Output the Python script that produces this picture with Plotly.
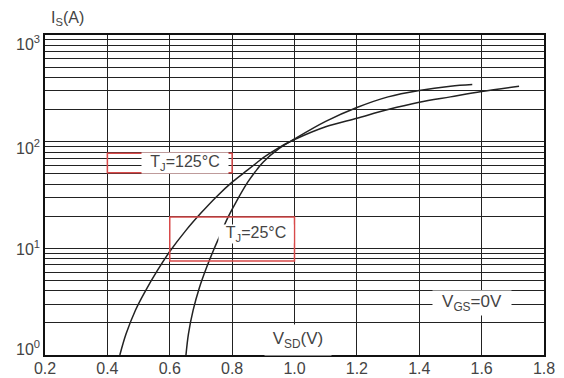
import math
import plotly.graph_objects as go

# ---- data ----
v_125 = [0.44, 0.46, 0.49, 0.52, 0.56, 0.60, 0.65, 0.70, 0.75, 0.80, 0.85, 0.88, 0.90, 0.95,
         1.0, 1.1, 1.2, 1.3, 1.4, 1.5, 1.6, 1.72]
i_125 = [1.0, 1.58, 2.63, 3.89, 6.17, 9.33, 14.5, 21.4, 30.5, 41.7, 54.3, 63.8, 70.8, 88.1,
         104.7, 138, 166, 200, 234, 263, 295, 331]

v_25 = [0.652, 0.66, 0.675, 0.695, 0.718, 0.74, 0.761, 0.785, 0.81, 0.85, 0.88, 0.90, 0.95,
        1.0, 1.1, 1.2, 1.3, 1.4, 1.5, 1.57]
i_25 = [1.0, 1.58, 2.63, 4.27, 6.6, 9.55, 13.2, 19.1, 26.3, 41.7, 55.0, 64.6, 86.1,
        106, 155, 209, 263, 302, 331, 343]

x_ticks = [0.2, 0.4, 0.6, 0.8, 1.0, 1.2, 1.4, 1.6, 1.8]
x_tick_labels = ["0.2", "0.4", "0.6", "0.8", "1.0", "1.2", "1.4", "1.6", "1.8"]
y_decades = [1, 10, 100, 1000]
y_decade_labels = ["10<sup>0</sup>", "10<sup>1</sup>", "10<sup>2</sup>", "10<sup>3</sup>"]
y_grid = [m * 10 ** k for k in range(3) for m in range(1, 10)] + [1000]

label_125 = "T<sub>J</sub>=125°C"
label_25 = "T<sub>J</sub>=25°C"
label_vgs = "V<sub>GS</sub>=0V"
label_x = "V<sub>SD</sub>(V)"
label_y = "I<sub>S</sub>(A)"

# label boxes (x range in V, y range in A)
box_125 = dict(x=(0.4, 0.8), y=(51, 78))
box_25 = dict(x=(0.6, 1.0), y=(7.6, 19.7))

FONT = "Liberation Sans, Arial, sans-serif"
TXT = "#444444"
LINE = "#222222"

fig = go.Figure()
fig.add_trace(go.Scatter(x=v_125, y=i_125, mode="lines",
                         line=dict(color=LINE, width=1.5, shape="spline", smoothing=1.0),
                         showlegend=False, hoverinfo="skip"))
fig.add_trace(go.Scatter(x=v_25, y=i_25, mode="lines",
                         line=dict(color=LINE, width=1.5, shape="spline", smoothing=1.0),
                         showlegend=False, hoverinfo="skip"))

shapes = []
for b in (box_125, box_25):
    shapes.append(dict(type="rect", xref="x", yref="y",
                       x0=b["x"][0], x1=b["x"][1], y0=b["y"][0], y1=b["y"][1],
                       line=dict(color="#d84a4a", width=1.5), layer="above"))

annotations = []
# y decade labels
y_shifts = [7, 0, -5, -8]
for val, lab, ys in zip(y_decades, y_decade_labels, y_shifts):
    annotations.append(dict(xref="paper", yref="y", x=0, y=math.log10(val), text=lab,
                            showarrow=False, xanchor="right", yanchor="middle", xshift=-3, yshift=ys,
                            font=dict(family=FONT, size=16, color=TXT)))
# axis titles and labels
annotations.append(dict(xref="paper", yref="paper", x=0.008, y=1.05, text=label_y, showarrow=False,
                        xanchor="left", yanchor="middle", font=dict(family=FONT, size=16, color=TXT)))
annotations.append(dict(xref="x", yref="y", x=1.011, y=math.log10(1.38), text=label_x, showarrow=False,
                        xanchor="center", yanchor="middle", width=64, height=28, bgcolor="white",
                        font=dict(family=FONT, size=17, color=TXT)))
annotations.append(dict(xref="x", yref="y", x=1.57, y=math.log10(3.05), text=label_vgs, showarrow=False,
                        xanchor="center", yanchor="middle", width=76, height=22, bgcolor="white",
                        font=dict(family=FONT, size=17, color=TXT)))
annotations.append(dict(xref="x", yref="y", x=0.648, y=math.log10(63), text=label_125, showarrow=False,
                        xanchor="center", yanchor="middle", width=84, height=18, bgcolor="white",
                        font=dict(family=FONT, size=16, color=TXT)))
annotations.append(dict(xref="x", yref="y", x=0.877, y=math.log10(13.5), text=label_25, showarrow=False,
                        xanchor="center", yanchor="middle", width=72, height=16, bgcolor="white",
                        font=dict(family=FONT, size=16, color=TXT)))

fig.update_layout(
    width=564, height=378,
    margin=dict(l=45, r=20, t=35, b=23),
    paper_bgcolor="white", plot_bgcolor="white",
    shapes=shapes, annotations=annotations,
    xaxis=dict(range=[0.2, 1.8], tickvals=x_ticks, ticktext=x_tick_labels, automargin=False,
               showgrid=True, gridcolor=LINE, gridwidth=1.3, zeroline=False,
               showline=True, linecolor="#111111", linewidth=2, mirror=True,
               ticks="", ticklen=0, ticklabelstandoff=-2,
               tickfont=dict(family=FONT, size=16, color=TXT)),
    yaxis=dict(type="log", range=[0, 3], tickvals=y_grid, ticktext=[""] * len(y_grid),
               automargin=False,
               showgrid=True, gridcolor=LINE, gridwidth=1.3, zeroline=False,
               showline=True, linecolor="#111111", linewidth=2, mirror=True,
               ticks="", showticklabels=False),
)

fig.write_html("out.html")
